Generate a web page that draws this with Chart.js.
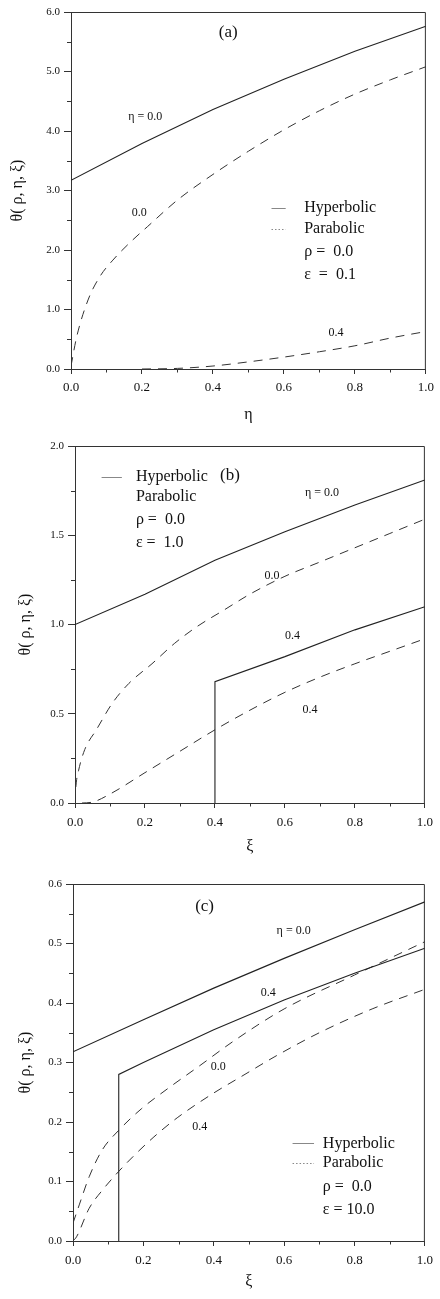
<!DOCTYPE html>
<html>
<head>
<meta charset="utf-8">
<script src="https://cdn.jsdelivr.net/npm/chart.js@4.4.1/dist/chart.umd.min.js"></script>
<style>
body { margin: 0; background: #fff; }
#wrap { position: relative; width: 440px; height: 1299px; }
canvas { position: absolute; left: 0; }
</style>
</head>
<body>
<div id="wrap">
  <canvas id="chartA" width="440" height="430" style="top:0px"></canvas>
  <canvas id="chartB" width="440" height="430" style="top:430px"></canvas>
  <canvas id="chartC" width="440" height="439" style="top:860px"></canvas>
</div>
<script>
var SERIF = '"Liberation Serif", "Times New Roman", serif';

// ---- panel (a): eps = 0.1, x axis is eta ----
var etaA_hyp0 = [0, 0.2, 0.4, 0.6, 0.8, 1.0];
var thetaA_hyp0 = [3.17, 3.79, 4.36, 4.87, 5.34, 5.76];
var etaA_par0 = [0, 0.016, 0.048, 0.081, 0.118, 0.174, 0.215, 0.3, 0.4, 0.5, 0.6, 0.7, 0.8, 0.9, 1.0];
var thetaA_par0 = [0.05, 0.54, 1.16, 1.55, 1.83, 2.17, 2.39, 2.84, 3.27, 3.66, 4.02, 4.34, 4.62, 4.86, 5.08];
var etaA_par4 = [0.2, 0.3, 0.4, 0.5, 0.6, 0.7, 0.8, 0.9, 1.0];
var thetaA_par4 = [0, 0.01, 0.05, 0.12, 0.20, 0.29, 0.39, 0.52, 0.63];

// ---- panel (b): eps = 1.0 ----
var xiB_hyp0 = [0, 0.2, 0.4, 0.6, 0.8, 1.0];
var thetaB_hyp0 = [1.0, 1.17, 1.36, 1.52, 1.67, 1.81];
var xiB_hyp4 = [0.4, 0.4, 0.6, 0.8, 1.0];
var thetaB_hyp4 = [0, 0.68, 0.82, 0.97, 1.10];
var xiB_par0 = [0, 0.003, 0.01, 0.028, 0.061, 0.107, 0.154, 0.22, 0.285, 0.35, 0.425, 0.5, 0.6, 0.7, 0.8, 0.9, 1.0];
var thetaB_par0 = [0, 0.1, 0.18, 0.30, 0.41, 0.56, 0.67, 0.78, 0.895, 0.99, 1.08, 1.17, 1.27, 1.35, 1.43, 1.51, 1.59];
var xiB_par4 = [0.02, 0.05, 0.1, 0.2, 0.3, 0.4, 0.5, 0.6, 0.7, 0.8, 0.9, 1.0];
var thetaB_par4 = [0, 0.005, 0.05, 0.17, 0.29, 0.41, 0.52, 0.62, 0.705, 0.78, 0.85, 0.92];

// ---- panel (c): eps = 10.0 ----
var xiC_hyp0 = [0, 0.2, 0.4, 0.6, 0.8, 1.0];
var thetaC_hyp0 = [0.318, 0.372, 0.425, 0.475, 0.523, 0.570];
var xiC_hyp4 = [0.13, 0.13, 0.2, 0.4, 0.6, 0.8, 1.0];
var thetaC_hyp4 = [0, 0.28, 0.30, 0.355, 0.405, 0.45, 0.492];
var xiC_par0 = [0, 0.0185, 0.046, 0.083, 0.13, 0.194, 0.269, 0.361, 0.454, 0.6, 0.8, 1.0];
var thetaC_par0 = [0.03, 0.062, 0.108, 0.153, 0.186, 0.222, 0.256, 0.295, 0.335, 0.39, 0.447, 0.503];
var xiC_par4 = [0, 0.01, 0.046, 0.083, 0.13, 0.176, 0.23, 0.296, 0.398, 0.48, 0.574, 0.7, 0.85, 1.0];
var thetaC_par4 = [0, 0.007, 0.055, 0.085, 0.117, 0.145, 0.175, 0.207, 0.248, 0.277, 0.31, 0.35, 0.39, 0.423];

function pts(xs, ys) {
    return xs.map(function (x, i) { return {x: x, y: ys[i]}; });
}

function hyp(xs, ys) {
    return { data: pts(xs, ys), borderColor: '#222', borderWidth: 1.1, pointRadius: 0, tension: 0, fill: false };
}
function par(xs, ys) {
    return { data: pts(xs, ys), borderColor: '#333', borderWidth: 1, borderDash: [9, 7], pointRadius: 0,
             cubicInterpolationMode: 'monotone', fill: false };
}

// draws the box, minor ticks, curve labels and the little legend
function framePlugin(cfg) {
    return {
        id: 'frame',
        afterDraw: function (chart) {
            var ctx = chart.ctx, a = chart.chartArea;
            var xs = chart.scales.x, ys = chart.scales.y;
            ctx.save();
            ctx.strokeStyle = '#333';
            ctx.lineWidth = 1;
            ctx.beginPath();
            ctx.moveTo(a.left, a.top + 0.5);
            ctx.lineTo(a.right - 0.5, a.top + 0.5);
            ctx.lineTo(a.right - 0.5, a.bottom);
            ctx.stroke();

            // minor ticks
            ctx.beginPath();
            for (var v = 0.1; v < 1; v += 0.2) {
                var px = Math.round(xs.getPixelForValue(v)) + 0.5;
                ctx.moveTo(px, a.bottom);
                ctx.lineTo(px, a.bottom + 3.5);
            }
            for (var w = cfg.yMinor; w < cfg.yMax; w += cfg.yMinor * 2) {
                var py = Math.round(ys.getPixelForValue(w)) + 0.5;
                ctx.moveTo(a.left - 4, py);
                ctx.lineTo(a.left, py);
            }
            ctx.stroke();

            ctx.fillStyle = '#111';
            ctx.textBaseline = 'middle';
            cfg.notes.forEach(function (n) {
                ctx.font = n.size + 'px ' + SERIF;
                ctx.textAlign = 'center';
                ctx.fillText(n.text, xs.getPixelForValue(n.x), ys.getPixelForValue(n.y));
            });

            var lg = cfg.legend;
            ctx.textAlign = 'left';
            ctx.font = '16px ' + SERIF;
            lg.rows.forEach(function (r) {
                var y = ys.getPixelForValue(r.y);
                ctx.fillText(r.text, xs.getPixelForValue(lg.textX), y);
                if (r.sample) {
                    ctx.save();
                    ctx.strokeStyle = '#888';
                    ctx.lineWidth = 1;
                    if (r.sample === 'dot') ctx.setLineDash([1.5, 2]);
                    ctx.beginPath();
                    ctx.moveTo(xs.getPixelForValue(lg.sx0), Math.round(y) + 0.5);
                    ctx.lineTo(xs.getPixelForValue(lg.sx1), Math.round(y) + 0.5);
                    ctx.stroke();
                    ctx.restore();
                }
            });
            ctx.restore();
        }
    };
}

function makePanel(id, cfg) {
    var ctx = document.getElementById(id).getContext('2d');
    return new Chart(ctx, {
        type: 'line',
        data: { datasets: cfg.datasets },
        options: {
            responsive: false,
            animation: false,
            events: [],
            layout: { padding: { top: cfg.padTop, right: cfg.padRight, left: 0, bottom: 0 } },
            plugins: { legend: { display: false }, tooltip: { enabled: false } },
            scales: {
                x: {
                    type: 'linear', min: 0, max: 1,
                    afterFit: function (s) { s.height = cfg.xHeight; },
                    grid: { drawOnChartArea: false, drawTicks: true, tickLength: 5, color: '#333' },
                    border: { color: '#333', width: 1 },
                    ticks: {
                        stepSize: 0.2, autoSkip: false, maxRotation: 0, padding: cfg.xTickPad, color: '#111',
                        font: { family: SERIF, size: 13 },
                        callback: function (v) { return v.toFixed(1); }
                    },
                    title: { display: true, text: cfg.xTitle, color: '#111', font: { family: SERIF, size: 16 },
                             padding: { top: 0, bottom: cfg.xTitlePad } }
                },
                y: {
                    min: 0, max: cfg.yMax,
                    afterFit: function (s) { s.width = cfg.yWidth; },
                    grid: { drawOnChartArea: false, drawTicks: true, tickLength: 7, color: '#333' },
                    border: { color: '#333', width: 1 },
                    ticks: {
                        stepSize: cfg.yStep, autoSkip: false, padding: 4, color: '#111',
                        font: { family: SERIF, size: 11 },
                        callback: function (v) { return v.toFixed(1); }
                    },
                    title: { display: true, text: 'θ( ρ, η, ξ)', color: '#111', font: { family: SERIF, size: 16 },
                             padding: { top: cfg.yTitlePad, bottom: 0 } }
                }
            }
        },
        plugins: [framePlugin(cfg)]
    });
}

makePanel('chartA', {
    padTop: 12, padRight: 10, yWidth: 71, xHeight: 61, xTickPad: 6, xTitle: 'η', xTitlePad: 6, yTitlePad: 8,
    yMax: 6, yStep: 1, yMinor: 0.5,
    datasets: [hyp(etaA_hyp0, thetaA_hyp0), par(etaA_par0, thetaA_par0), par(etaA_par4, thetaA_par4)],
    notes: [
        { text: '(a)', x: 0.443, y: 5.65, size: 17 },
        { text: 'η = 0.0', x: 0.209, y: 4.24, size: 12 },
        { text: '0.0', x: 0.192, y: 2.62, size: 12 },
        { text: '0.4', x: 0.747, y: 0.61, size: 12 }
    ],
    legend: { sx0: 0.565, sx1: 0.605, textX: 0.657, rows: [
        { text: 'Hyperbolic', y: 2.71, sample: 'solid' },
        { text: 'Parabolic', y: 2.35, sample: 'dot' },
        { text: 'ρ =  0.0', y: 1.97 },
        { text: 'ε  =  0.1', y: 1.58 }
    ] }
});

makePanel('chartB', {
    padTop: 16, padRight: 8, yWidth: 75, xHeight: 57, xTickPad: 7, xTitle: 'ξ', xTitlePad: 4, yTitlePad: 16,
    yMax: 2, yStep: 0.5, yMinor: 0.25,
    datasets: [hyp(xiB_hyp0, thetaB_hyp0), hyp(xiB_hyp4, thetaB_hyp4), par(xiB_par0, thetaB_par0), par(xiB_par4, thetaB_par4)],
    notes: [
        { text: '(b)', x: 0.443, y: 1.836, size: 17 },
        { text: 'η = 0.0', x: 0.706, y: 1.735, size: 12 },
        { text: '0.0', x: 0.563, y: 1.27, size: 12 },
        { text: '0.4', x: 0.622, y: 0.936, size: 12 },
        { text: '0.4', x: 0.672, y: 0.522, size: 12 }
    ],
    legend: { sx0: 0.076, sx1: 0.134, textX: 0.174, rows: [
        { text: 'Hyperbolic', y: 1.825, sample: 'solid' },
        { text: 'Parabolic', y: 1.713 },
        { text: 'ρ =  0.0', y: 1.585 },
        { text: 'ε =  1.0', y: 1.456 }
    ] }
});

makePanel('chartC', {
    padTop: 24, padRight: 7, yWidth: 73, xHeight: 58, xTickPad: 7, xTitle: 'ξ', xTitlePad: 8, yTitlePad: 16,
    yMax: 0.6, yStep: 0.1, yMinor: 0.05,
    datasets: [hyp(xiC_hyp0, thetaC_hyp0), hyp(xiC_hyp4, thetaC_hyp4), par(xiC_par0, thetaC_par0), par(xiC_par4, thetaC_par4)],
    notes: [
        { text: '(c)', x: 0.374, y: 0.562, size: 17 },
        { text: 'η = 0.0', x: 0.627, y: 0.521, size: 12 },
        { text: '0.4', x: 0.555, y: 0.417, size: 12 },
        { text: '0.0', x: 0.413, y: 0.292, size: 12 },
        { text: '0.4', x: 0.36, y: 0.192, size: 12 }
    ],
    legend: { sx0: 0.624, sx1: 0.685, textX: 0.71, rows: [
        { text: 'Hyperbolic', y: 0.164, sample: 'solid' },
        { text: 'Parabolic', y: 0.131, sample: 'dot' },
        { text: 'ρ =  0.0', y: 0.091 },
        { text: 'ε = 10.0', y: 0.053 }
    ] }
});
</script>
</body>
</html>
